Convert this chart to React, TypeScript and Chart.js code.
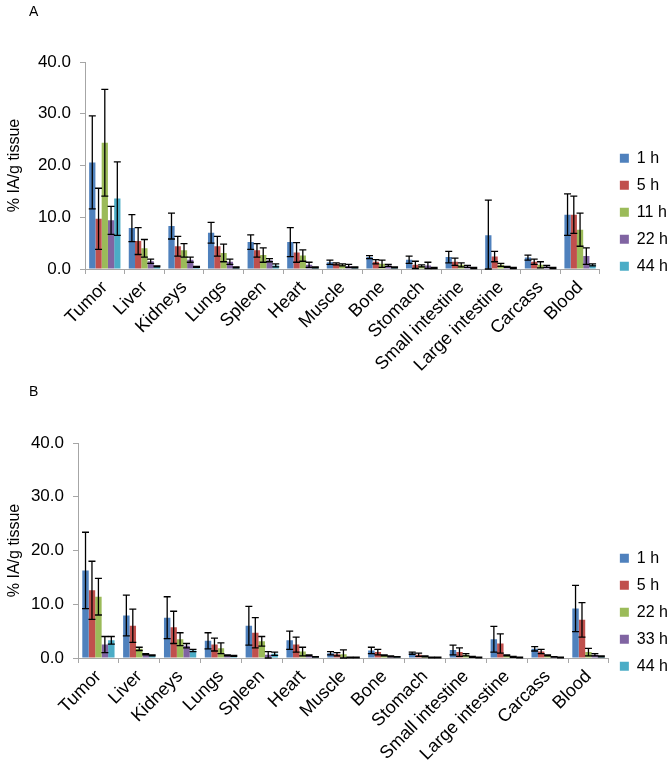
import React, { useEffect, useRef } from 'react';
import { Chart, registerables } from 'chart.js';
Chart.register(...registerables);

const FONT = "'Liberation Sans', Arial, sans-serif";

const categories = ['Tumor', 'Liver', 'Kidneys', 'Lungs', 'Spleen', 'Heart', 'Muscle', 'Bone', 'Stomach', 'Small intestine', 'Large intestine', 'Carcass', 'Blood'];
const yTicks = [0, 10, 20, 30, 40];
const colors = ['#4F81BD', '#C0504D', '#9BBB59', '#8064A2', '#4BACC6'];

// Panel A
const seriesA = ['1 h', '5 h', '11 h', '22 h', '44 h'];
const a1h = [20.6, 7.9, 8.3, 7.0, 5.2, 5.2, 1.3, 2.3, 1.8, 2.3, 6.5, 2.2, 10.5];
const a1hErr = [9.0, 2.6, 2.5, 2.0, 1.4, 2.8, 0.4, 0.3, 0.7, 1.1, 6.8, 0.5, 4.0];
const a5h = [9.7, 5.4, 4.4, 4.4, 3.6, 3.2, 1.0, 1.4, 0.8, 1.4, 2.4, 1.4, 10.5];
const a5hErr = [5.9, 2.6, 1.9, 1.9, 1.3, 1.9, 0.2, 0.4, 0.7, 0.7, 1.0, 0.5, 3.6];
const a11h = [24.4, 4.0, 3.6, 3.1, 2.7, 2.6, 0.8, 1.0, 0.6, 0.8, 0.8, 0.8, 7.6];
const a11hErr = [10.3, 1.7, 1.3, 1.7, 1.4, 1.1, 0.2, 0.7, 0.2, 0.4, 0.3, 0.6, 3.2];
const a22h = [9.4, 1.5, 1.8, 1.4, 1.7, 0.8, 0.6, 0.7, 0.7, 0.5, 0.4, 0.5, 2.5];
const a22hErr = [2.7, 0.4, 0.5, 0.5, 0.3, 0.5, 0.3, 0.2, 0.6, 0.2, 0.1, 0.2, 1.6];
const a44h = [13.6, 0.5, 0.4, 0.3, 0.7, 0.3, 0.3, 0.3, 0.2, 0.2, 0.2, 0.2, 0.8];
const a44hErr = [7.1, 0.1, 0.1, 0.1, 0.3, 0.1, 0.1, 0.1, 0.1, 0.1, 0.1, 0.1, 0.2];

// Panel B
const seriesB = ['1 h', '5 h', '22 h', '33 h', '44 h'];
const b1h = [16.3, 7.9, 7.5, 3.2, 6.0, 3.3, 0.9, 1.4, 0.9, 1.5, 3.5, 1.7, 9.2];
const b1hErr = [7.1, 3.8, 3.9, 1.5, 3.6, 1.7, 0.3, 0.6, 0.2, 0.9, 2.4, 0.4, 4.3];
const b5h = [12.6, 6.0, 5.7, 2.5, 4.7, 2.5, 0.7, 1.1, 0.6, 1.1, 2.7, 1.2, 7.1];
const b5hErr = [5.4, 3.1, 3.0, 1.2, 2.8, 1.4, 0.3, 0.5, 0.3, 0.8, 1.8, 0.4, 3.2];
const b22h = [11.4, 1.7, 3.5, 1.8, 3.1, 1.2, 0.7, 0.5, 0.3, 0.6, 0.5, 0.5, 1.1];
const b22hErr = [3.4, 0.3, 1.2, 1.0, 0.9, 0.8, 0.8, 0.1, 0.1, 0.2, 0.1, 0.1, 0.7];
const b33h = [2.5, 0.7, 2.3, 0.5, 0.6, 0.5, 0.1, 0.3, 0.1, 0.2, 0.2, 0.2, 0.6];
const b33hErr = [1.5, 0.1, 0.4, 0.1, 0.6, 0.1, 0.05, 0.1, 0.05, 0.1, 0.1, 0.05, 0.2];
const b44h = [3.3, 0.5, 1.4, 0.4, 0.8, 0.2, 0.1, 0.2, 0.1, 0.1, 0.1, 0.1, 0.3];
const b44hErr = [0.7, 0.1, 0.2, 0.1, 0.3, 0.05, 0.05, 0.05, 0.05, 0.05, 0.05, 0.05, 0.1];

const errorBarPlugin = {
  id: 'errorBars',
  afterDatasetsDraw(chart: any) {
    const ctx = chart.ctx;
    const yScale = chart.scales.y;
    ctx.save();
    ctx.strokeStyle = '#000';
    ctx.lineWidth = 1.3;
    chart.data.datasets.forEach((ds: any, di: number) => {
      const meta = chart.getDatasetMeta(di);
      if (meta.hidden || !ds.errors) return;
      meta.data.forEach((bar: any, i: number) => {
        const v = ds.data[i];
        const e = ds.errors[i];
        const x = bar.x;
        const yT = yScale.getPixelForValue(v + e);
        const yB = yScale.getPixelForValue(Math.max(0, v - e));
        const hw = 3.5;
        ctx.beginPath();
        ctx.moveTo(x, yT);
        ctx.lineTo(x, yB);
        ctx.moveTo(x - hw, yT);
        ctx.lineTo(x + hw, yT);
        ctx.moveTo(x - hw, yB);
        ctx.lineTo(x + hw, yB);
        ctx.stroke();
      });
    });
    ctx.restore();
  },
};

type PanelProps = {
  top: number;
  height: number;
  width: number;
  padTop: number;
  axisWidth: number;
  xHeight: number;
  gapRight: number;
  legendTitlePad: number;
  letter: string;
  series: string[];
  values: number[][];
  errors: number[][];
};

function Panel(p: PanelProps) {
  const ref = useRef<HTMLCanvasElement>(null);
  useEffect(() => {
    if (!ref.current) return;
    const grey = '#a6a6a6';
    const chart = new Chart(ref.current, {
      type: 'bar',
      data: {
        labels: categories,
        datasets: p.series.map((s, i) => ({
          label: s,
          data: p.values[i],
          errors: p.errors[i],
          backgroundColor: colors[i],
          borderWidth: 0,
          categoryPercentage: 0.79,
          barPercentage: 1.0,
        })) as any,
      },
      options: {
        animation: false,
        responsive: false,
        maintainAspectRatio: false,
        layout: { padding: { top: p.padTop, left: 0, right: 0, bottom: 0 } },
        plugins: {
          tooltip: { enabled: false },
          legend: {
            position: 'right',
            align: 'start',
            title: { display: true, text: ' ', font: { size: 1 }, padding: { top: p.legendTitlePad, bottom: 0 } },
            labels: {
              boxWidth: 9,
              boxHeight: 9,
              padding: 11,
              color: '#000',
              font: { family: FONT, size: 16 },
            },
          },
        },
        scales: {
          x: {
            offset: true,
            grid: { display: true, drawOnChartArea: false, drawTicks: true, tickLength: 5, color: grey, offset: true },
            border: { display: true, color: grey, width: 1 },
            ticks: { autoSkip: false, minRotation: 45, maxRotation: 45, padding: 3, color: '#000', font: { family: FONT, size: 18 } },
            afterFit: (s: any) => { s.height = p.xHeight; },
          },
          y: {
            min: 0,
            max: 40,
            afterBuildTicks: (s: any) => { s.ticks = yTicks.map((v) => ({ value: v })); },
            grid: { display: true, drawOnChartArea: false, drawTicks: true, tickLength: 5, color: grey },
            border: { display: true, color: grey, width: 1 },
            ticks: { padding: 9, color: '#000', font: { family: FONT, size: 17 }, callback: (v: any) => Number(v).toFixed(1) },
            title: { display: true, text: '% IA/g tissue', color: '#000', font: { family: FONT, size: 16 }, padding: { top: 5, bottom: 0 } },
            afterFit: (s: any) => { s.width = p.axisWidth; },
          },
          yR: {
            position: 'right',
            display: true,
            grid: { display: false },
            border: { display: false },
            ticks: { display: false },
            afterFit: (s: any) => { s.width = p.gapRight; },
          },
        },
      } as any,
      plugins: [errorBarPlugin],
    });
    return () => chart.destroy();
  }, []);
  return (
    <div style={{ position: 'absolute', left: 0, top: p.top, width: p.width, height: p.height }}>
      <canvas ref={ref} width={p.width} height={p.height} style={{ width: p.width, height: p.height, display: 'block' }} />
      <div style={{ position: 'absolute', left: 29, top: 3, fontFamily: FONT, fontSize: 14, color: '#000', lineHeight: '16px' }}>{p.letter}</div>
    </div>
  );
}

export default function App() {
  return (
    <div style={{ position: 'absolute', left: 0, top: 0, width: 669, height: 760, overflow: 'hidden', background: '#fff' }}>
      <Panel
        top={0}
        height={375}
        width={678}
        padTop={62}
        axisWidth={85}
        xHeight={106}
        gapRight={9}
        legendTitlePad={76}
        letter="A"
        series={seriesA}
        values={[a1h, a5h, a11h, a22h, a44h]}
        errors={[a1hErr, a5hErr, a11hErr, a22hErr, a44hErr]}
      />
      <Panel
        top={380}
        height={380}
        width={678}
        padTop={63}
        axisWidth={78}
        xHeight={102}
        gapRight={0}
        legendTitlePad={95}
        letter="B"
        series={seriesB}
        values={[b1h, b5h, b22h, b33h, b44h]}
        errors={[b1hErr, b5hErr, b22hErr, b33hErr, b44hErr]}
      />
    </div>
  );
}
